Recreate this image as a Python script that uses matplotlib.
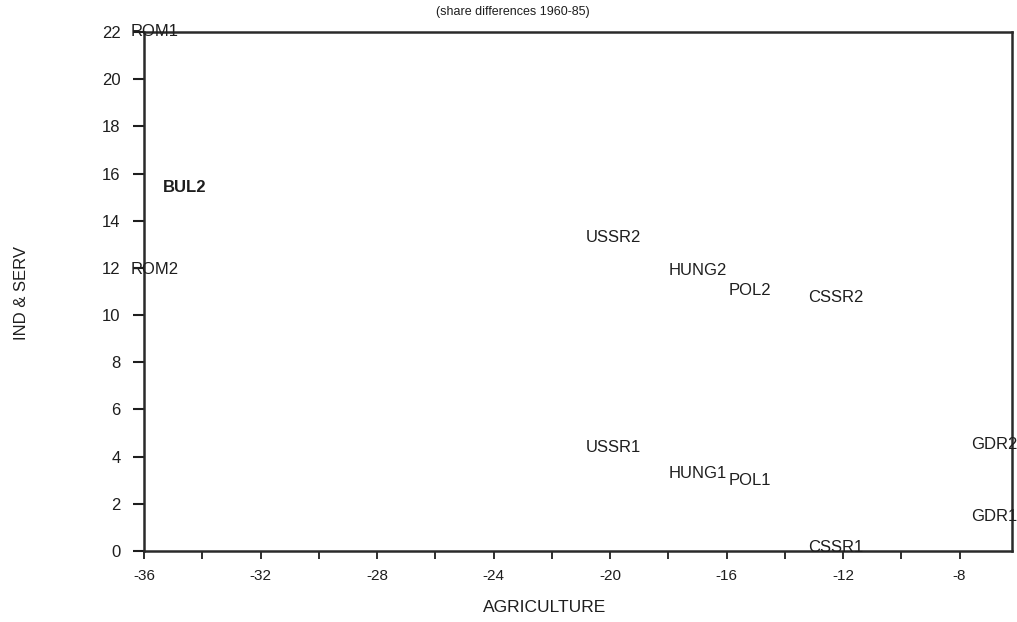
import matplotlib
matplotlib.use("Agg")
import matplotlib.pyplot as plt
from matplotlib.ticker import MultipleLocator

plt.rcParams['font.family'] = ['Liberation Sans', 'DejaVu Sans']

labels = ["ROM1", "BUL2", "ROM2", "USSR2", "HUNG2", "POL2", "CSSR2",
          "USSR1", "HUNG1", "POL1", "GDR2", "GDR1", "CSSR1"]
agri = [-36.45, -35.35, -36.45, -20.85, -18.0, -15.93, -13.2,
        -20.85, -18.0, -15.93, -7.6, -7.6, -13.2]
indserv = [22.0, 15.4, 11.95, 13.3, 11.9, 11.06, 10.76,
           4.4, 3.3, 2.97, 4.5, 1.48, 0.13]
xticks = [-36, -32, -28, -24, -20, -16, -12, -8]
yticks = [0, 2, 4, 6, 8, 10, 12, 14, 16, 18, 20, 22]

fig = plt.figure(figsize=(10.17, 6.22), dpi=100)
ax = fig.add_axes([0.1416, 0.1141, 0.9951 - 0.1416, 0.9486 - 0.1141])
ax.set_xlim(-36, -6.2)
ax.set_ylim(0, 22)

col = '#1e1e1e'
for lab, x, y in zip(labels, agri, indserv):
    ax.text(x, y, lab, ha='left', va='center', fontsize=12, color=col,
            fontweight='bold' if lab == 'BUL2' else 'normal', clip_on=False)

ax.set_xticks(xticks)
ax.xaxis.set_minor_locator(MultipleLocator(2))
ax.set_yticks(yticks)
ax.tick_params(axis='x', which='both', direction='out', length=6, width=1.3,
               colors=col, labelsize=11, pad=7, top=False)
ax.tick_params(axis='y', which='both', direction='out', length=8, width=1.5,
               colors=col, labelsize=12, pad=9, right=False)
ax.set_xticklabels([str(t) for t in xticks])
ax.set_yticklabels([str(t) for t in yticks])
for s in ax.spines.values():
    s.set_linewidth(1.8)
    s.set_color('#2a2a2a')

fig.text(513 / 1017, 1 - 12 / 622, "(share differences 1960-85)", ha='center', va='center',
         fontsize=9, color=col)
fig.text(545 / 1017, 1 - 607 / 622, "AGRICULTURE", ha='center', va='center',
         fontsize=12.5, color=col)
fig.text(22 / 1017, 1 - 293 / 622, "IND & SERV", ha='center', va='center',
         rotation=90, fontsize=12, color=col)

fig.savefig("out.png", dpi=100)
